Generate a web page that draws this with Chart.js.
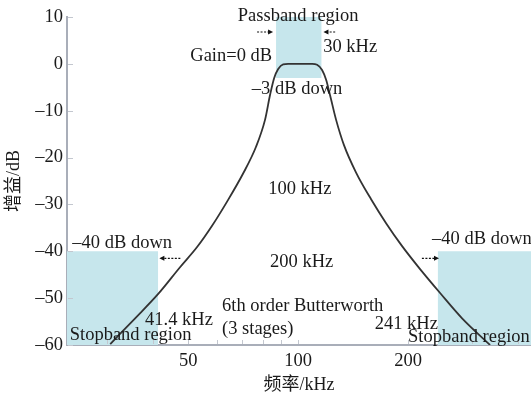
<!DOCTYPE html>
<html>
<head>
<meta charset="utf-8">
<script src="https://cdn.jsdelivr.net/npm/chart.js@4.4.1/dist/chart.umd.min.js"></script>
<style>
  html, body { margin: 0; padding: 0; background: #fff; }
  #wrap { width: 531px; height: 397px; position: relative; }
</style>
</head>
<body>
<div id="wrap"><canvas id="chart"></canvas></div>
<script>
// response curve (kHz, dB)
const freqKHz = [30.6, 35.8, 41.4, 47.5, 52.9, 58.2, 63.9, 70.7, 76.7, 81.2, 83.8, 86.0, 88.2, 91.0, 93.9, 100, 109.2, 112.7, 116.3, 119.3, 122.4, 127.0, 133.6, 144.1, 158.4, 174.1, 192.6, 215.7, 244.7, 281.1, 335.3];
const gainDB = [-59.8, -54.3, -49.1, -43.4, -39.1, -34.5, -29.4, -23.4, -17.7, -11.9, -6.6, -3.0, -1.1, -0.1, 0, 0, 0, -0.2, -1.3, -3.4, -6.8, -11.9, -17.4, -23.2, -28.9, -34.0, -38.9, -43.8, -48.9, -54.3, -60];

// shaded regions: [from kHz, to kHz, top dB, bottom dB]
const passband = [87, 116, 10, -3];
const stopbandLow = [23.3, 41.4, -40, -60];
const stopbandHigh = [241, 434, -40, -60];

// axes
const xRange = [23.3, 434];
const yRange = [-60, 10];
const xLabelTicks = [50, 100, 200];
const xMinorTicks = [30, 40, 60, 70, 80, 90, 300, 400];
const yTicks = [10, 0, -10, -20, -30, -40, -50, -60];

// notes: [text, kHz, dB, align]
const notes = [
  ["Passband region", 100, 10.2, "center"],
  ["Gain=0 dB", 84.9, 1.6, "right"],
  ["30 kHz", 117.1, 3.5, "left"],
  ["\u20133 dB down", 74.7, -5.5, "left"],
  ["100 kHz", 82.8, -26.8, "left"],
  ["200 kHz", 83.8, -42.4, "left"],
  ["6th order Butterworth", 61.9, -51.8, "left"],
  ["(3 stages)", 61.9, -56.6, "left"],
  ["41.4 kHz", 38.1, -54.7, "left"],
  ["Stopband region", 23.7, -58, "left"],
  ["\u201340 dB down", 24.1, -38.3, "left"],
  ["\u201340 dB down", 232.6, -37.4, "left"],
  ["241 kHz", 162, -55.5, "left"],
  ["Stopband region", 200, -58.3, "left"],
];

// dashed arrows: [tail kHz, head kHz, dB]
const arrows = [
  [77.2, 85.4, 6.8],
  [126.3, 117.3, 6.8],
  [47.6, 41.7, -41.5],
  [218.2, 243, -41.5],
];

const FONT = '"Liberation Serif", "Noto Sans CJK SC", serif';
const BOX = "#c6e6ec";

function region(r) {
  return {
    data: [{ x: r[0], y: r[2] }, { x: r[1], y: r[2] }],
    borderWidth: 0,
    pointRadius: 0,
    backgroundColor: BOX,
    fill: { value: r[3] },
  };
}

const decorate = {
  id: "decorate",
  afterDatasetsDraw(chart) {
    const { ctx, scales: { x, y } } = chart;
    ctx.save();
    // inward tick marks
    ctx.strokeStyle = "#c3c7cf";
    ctx.lineWidth = 1;
    ctx.beginPath();
    xLabelTicks.concat(xMinorTicks).forEach((v) => {
      const px = Math.round(x.getPixelForValue(v)) + 0.5;
      ctx.moveTo(px, y.bottom - 1);
      ctx.lineTo(px, y.bottom - 5);
    });
    yTicks.forEach((v) => {
      const py = Math.round(y.getPixelForValue(v)) + 0.5;
      ctx.moveTo(x.left + 1, py);
      ctx.lineTo(x.left + 6, py);
    });
    ctx.stroke();

    // arrows
    ctx.strokeStyle = "#111";
    ctx.fillStyle = "#111";
    arrows.forEach(([from, to, db]) => {
      const x0 = x.getPixelForValue(from);
      const x1 = x.getPixelForValue(to);
      const py = y.getPixelForValue(db);
      const dir = Math.sign(x1 - x0);
      ctx.setLineDash([2, 1.5]);
      ctx.lineWidth = 1.2;
      ctx.beginPath();
      ctx.moveTo(x0, py);
      ctx.lineTo(x1 - dir * 4, py);
      ctx.stroke();
      ctx.setLineDash([]);
      ctx.beginPath();
      ctx.moveTo(x1, py);
      ctx.lineTo(x1 - dir * 5, py - 2.5);
      ctx.lineTo(x1 - dir * 5, py + 2.5);
      ctx.closePath();
      ctx.fill();
    });

    // text notes
    ctx.fillStyle = "#1a1a1a";
    ctx.font = "18.5px " + FONT;
    ctx.textBaseline = "middle";
    notes.forEach(([text, f, db, align]) => {
      ctx.textAlign = align;
      ctx.fillText(text, x.getPixelForValue(f), y.getPixelForValue(db));
    });
    ctx.restore();
  },
};

new Chart(document.getElementById("chart"), {
  type: "line",
  data: {
    datasets: [
      {
        data: freqKHz.map((f, i) => ({ x: f, y: gainDB[i] })),
        borderColor: "#333",
        borderWidth: 1.8,
        pointRadius: 0,
        cubicInterpolationMode: "monotone",
        fill: false,
      },
      region(passband),
      region(stopbandLow),
      region(stopbandHigh),
    ],
  },
  options: {
    responsive: true,
    maintainAspectRatio: false,
    animation: false,
    layout: { padding: { top: 17, right: 0, left: 0, bottom: 0 } },
    plugins: {
      legend: { display: false },
      tooltip: { enabled: false },
    },
    scales: {
      x: {
        type: "logarithmic",
        min: xRange[0],
        max: xRange[1],
        afterBuildTicks: (scale) => {
          scale.ticks = xLabelTicks.map((v) => ({ value: v }));
        },
        afterFit: (scale) => {
          scale.height = 52;
        },
        grid: { display: false, drawTicks: false },
        border: { color: "#a9aeb9", width: 2 },
        ticks: {
          color: "#1a1a1a",
          font: { family: FONT, size: 18.5 },
          padding: 5,
          maxRotation: 0,
          autoSkip: false,
          callback: (value) => String(value),
        },
        title: {
          display: true,
          text: "频率/kHz",
          color: "#1a1a1a",
          font: { family: FONT, size: 18 },
          padding: { top: 0, bottom: 1 },
        },
      },
      y: {
        min: yRange[0],
        max: yRange[1],
        afterBuildTicks: (scale) => {
          scale.ticks = yTicks.map((v) => ({ value: v }));
        },
        afterFit: (scale) => {
          scale.width = 67;
        },
        grid: { display: false, drawTicks: false },
        border: { color: "#a9aeb9", width: 2 },
        ticks: {
          color: "#1a1a1a",
          font: { family: FONT, size: 18.5 },
          padding: 4,
          callback: (value) => (value < 0 ? "\u2013" + Math.abs(value) : String(value)),
        },
        title: {
          display: true,
          text: "增益/dB",
          color: "#1a1a1a",
          font: { family: FONT, size: 18 },
          padding: { top: 3, bottom: 0 },
        },
      },
    },
  },
  plugins: [decorate],
});
</script>
</body>
</html>
